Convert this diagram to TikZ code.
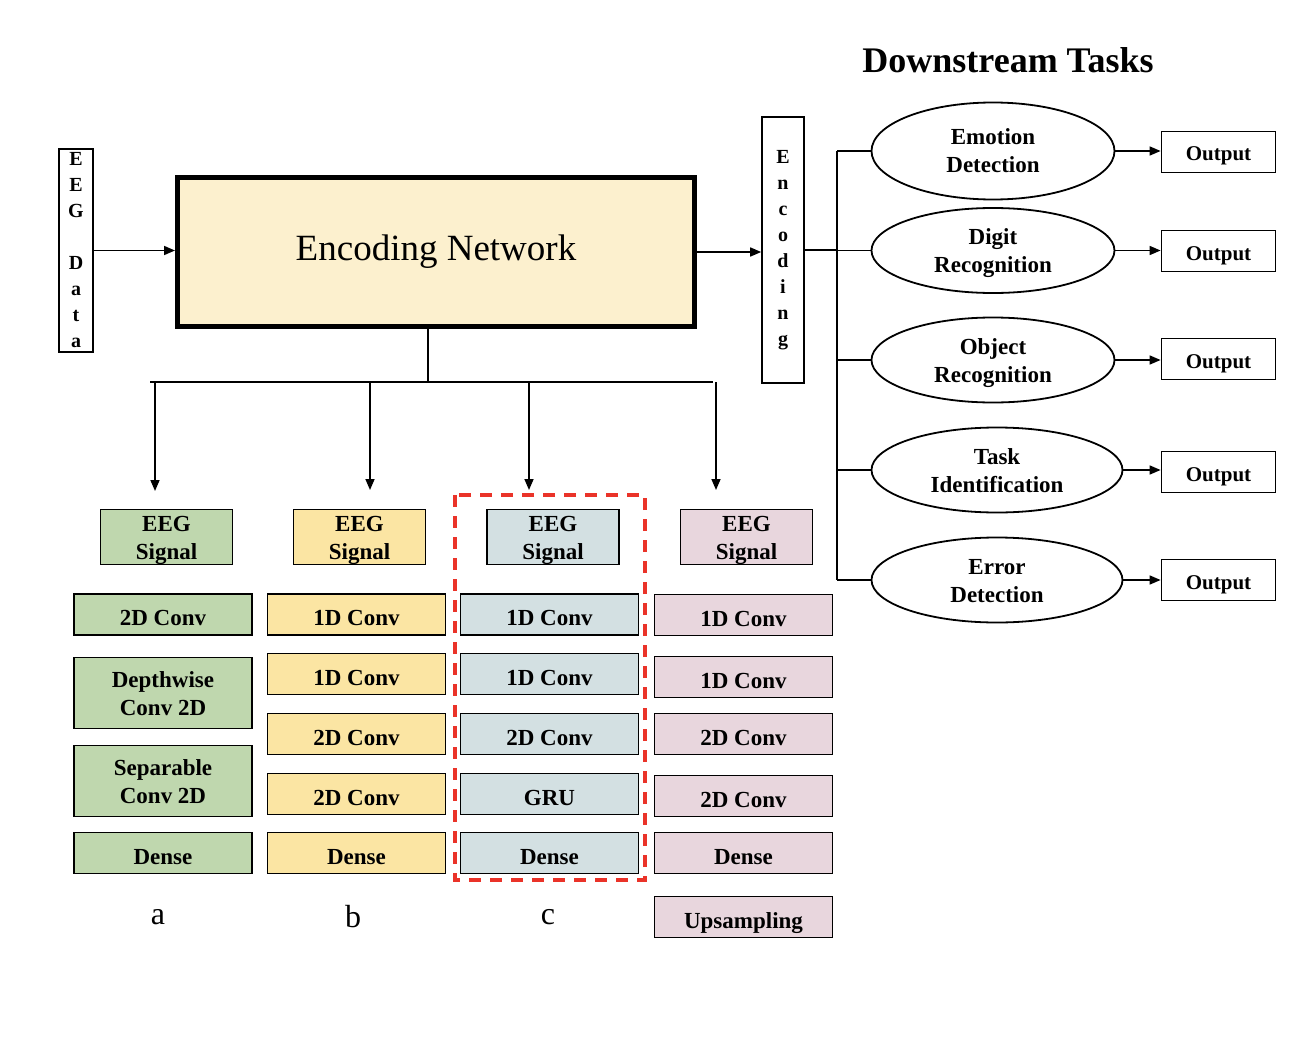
\documentclass[tikz,border=0pt]{standalone}
\usepackage{fontspec}
\setmainfont{Liberation Serif}
\usetikzlibrary{calc}
\usetikzlibrary{arrows.meta}
\usetikzlibrary{shapes.geometric}
\definecolor{netFill}{RGB}{252,240,206}
\definecolor{colA}{RGB}{191,215,174}
\definecolor{colB}{RGB}{251,229,163}
\definecolor{colC}{RGB}{211,224,226}
\definecolor{colD}{RGB}{232,214,221}
\definecolor{selRed}{RGB}{234,51,41}
\tikzset{
  twoLine/.style = {text height=44pt, text depth=0pt},
  layerBox/.style = {draw=black, line width=1.8pt, fill=#1, minimum width=178pt, minimum height=41pt, inner sep=0pt, align=center, text height=22pt, text depth=0pt, font=\fontsize{23}{28}\selectfont\bfseries},
  signal/.style = {layerBox={#1}, twoLine, minimum width=132pt, minimum height=55pt},
  task/.style = {ellipse, draw=black, line width=1.8pt, minimum width=243pt, minimum height=85pt, inner sep=0pt, align=center, twoLine, font=\fontsize{23}{28}\selectfont\bfseries},
  outBox/.style = {draw=black, line width=1.8pt, minimum width=114pt, minimum height=41pt, inner sep=0pt, text height=18pt, text depth=0pt, font=\fontsize{21}{26}\selectfont\bfseries},
  strip/.style = {draw=black, line width=1.6pt, inner sep=0pt, align=center, font=\fontsize{20}{26}\selectfont\bfseries},
  wire/.style = {color=black, line width=1.6pt},
  conn/.style = {wire, -{Triangle[length=11pt,width=9pt]}},
  selFrame/.style = {color=#1, line width=3.5pt, dash pattern=on 12pt off 9pt},
  colLabel/.style = {font=\fontsize{32}{36}\selectfont}
}

\begin{document}
\begin{tikzpicture}[x=1pt,y=-1pt]
    \useasboundingbox (0,0) rectangle (1311,1043);

    %==== Encoder ====
    % Body
    \node[strip, minimum width=34pt, minimum height=203pt] (data) at (76,250.5) {E\\E\\G\\[26pt]D\\a\\t\\a};
    \node[draw=black, line width=5pt, fill=netFill, minimum width=517pt, minimum height=149pt, font=\fontsize{37}{40}\selectfont] (net) at (436,252) {Encoding Network};
    \node[strip, minimum width=42pt, minimum height=266pt] (code) at (783,250) {E\\n\\c\\o\\d\\i\\n\\g};

    % Connections
    \draw[conn] (data.east) -- (data.east -| net.west);
    \draw[conn] (net.east) -- (net.east -| code.west);

    %==== Branches ====
    % Coordinates
    \coordinate (split) at (428,382);
    \coordinate (busL) at (150,382);
    \coordinate (busR) at (713,382);
    \coordinate (tipA) at (155,491);
    \coordinate (tipB) at (370,490);
    \coordinate (tipC) at (529,490);
    \coordinate (tipD) at (716,490);

    % Bus
    \draw[wire] (net.south -| split) -- (split);
    \draw[wire] (busL) -- (busR);
    \draw[conn] (tipA |- split) -- (tipA);
    \draw[conn] (tipB |- split) -- (tipB);
    \draw[conn] (tipC |- split) -- (tipC);
    \draw[conn] (tipD |- split) -- (tipD);

    %==== Column a ====
    \node[signal={colA}] (a0) at (166.5,537) {EEG\\Signal};
    \node[layerBox={colA}] (a1) at (163,614.5) {2D Conv};
    \node[layerBox={colA}, twoLine, minimum height=71pt] (a2) at (163,693) {Depthwise\\Conv 2D};
    \node[layerBox={colA}, twoLine, minimum height=71pt] (a3) at (163,781) {Separable\\Conv 2D};
    \node[layerBox={colA}] (a4) at (163,853) {Dense};
    \node[colLabel] (labA) at (158,917) {a};

    %==== Column b ====
    \node[signal={colB}] (b0) at (359.5,537) {EEG\\Signal};
    \node[layerBox={colB}] (b1) at (356.5,614.5) {1D Conv};
    \node[layerBox={colB}] (b2) at (356.5,674) {1D Conv};
    \node[layerBox={colB}] (b3) at (356.5,734) {2D Conv};
    \node[layerBox={colB}] (b4) at (356.5,794) {2D Conv};
    \node[layerBox={colB}] (b5) at (356.5,853) {Dense};
    \node[colLabel] (labB) at (353,917) {b};

    %==== Column c ====
    \node[signal={colC}] (c0) at (553,537) {EEG\\Signal};
    \node[layerBox={colC}] (c1) at (549.5,614.5) {1D Conv};
    \node[layerBox={colC}] (c2) at (549.5,674) {1D Conv};
    \node[layerBox={colC}] (c3) at (549.5,734) {2D Conv};
    \node[layerBox={colC}] (c4) at (549.5,794) {GRU};
    \node[layerBox={colC}] (c5) at (549.5,853) {Dense};
    \node[colLabel] (labC) at (548,917) {c};
    \draw[selFrame={selRed}] (455,495) rectangle (645,880);

    %==== Column d ====
    \node[signal={colD}] (d0) at (746.5,537) {EEG\\Signal};
    \node[layerBox={colD}] (d1) at (743.5,615) {1D Conv};
    \node[layerBox={colD}] (d2) at (743.5,677) {1D Conv};
    \node[layerBox={colD}] (d3) at (743.5,734) {2D Conv};
    \node[layerBox={colD}] (d4) at (743.5,796) {2D Conv};
    \node[layerBox={colD}] (d5) at (743.5,853) {Dense};
    \node[layerBox={colD}] (d6) at (743.5,917) {Upsampling};

    %==== Downstream tasks ====
    % Labels
    \node[font=\fontsize{36}{40}\selectfont\bfseries] (title) at (1008,60) {Downstream Tasks};

    % Tasks
    \node[task, minimum height=97pt] (emo) at (993,151) {Emotion\\Detection};
    \node[task] (dig) at (993,250.5) {Digit\\Recognition};
    \node[task] (obj) at (993,360) {Object\\Recognition};
    \node[task, minimum width=251pt] (tsk) at (997,470) {Task\\Identification};
    \node[task, minimum width=251pt] (err) at (997,580) {Error\\Detection};

    % Outputs
    \node[outBox] (out1) at (1218.5,152) {Output};
    \node[outBox] (out2) at (1218.5,251) {Output};
    \node[outBox] (out3) at (1218.5,359) {Output};
    \node[outBox] (out4) at (1218.5,472) {Output};
    \node[outBox] (out5) at (1218.5,580) {Output};

    % Connections
    \coordinate (trunk) at (837,250);
    \draw[wire] (code.east) -- (code.east -| trunk);
    \draw[wire] (trunk |- emo.west) -- (trunk |- err.west);
    \draw[wire] (trunk |- emo.west) -- (emo.west);
    \draw[wire] (trunk |- dig.west) -- (dig.west);
    \draw[wire] (trunk |- obj.west) -- (obj.west);
    \draw[wire] (trunk |- tsk.west) -- (tsk.west);
    \draw[wire] (trunk |- err.west) -- (err.west);
    \draw[conn] (emo.east) -- (emo.east -| out1.west);
    \draw[conn] (dig.east) -- (dig.east -| out2.west);
    \draw[conn] (obj.east) -- (obj.east -| out3.west);
    \draw[conn] (tsk.east) -- (tsk.east -| out4.west);
    \draw[conn] (err.east) -- (err.east -| out5.west);

\end{tikzpicture}
\end{document}
